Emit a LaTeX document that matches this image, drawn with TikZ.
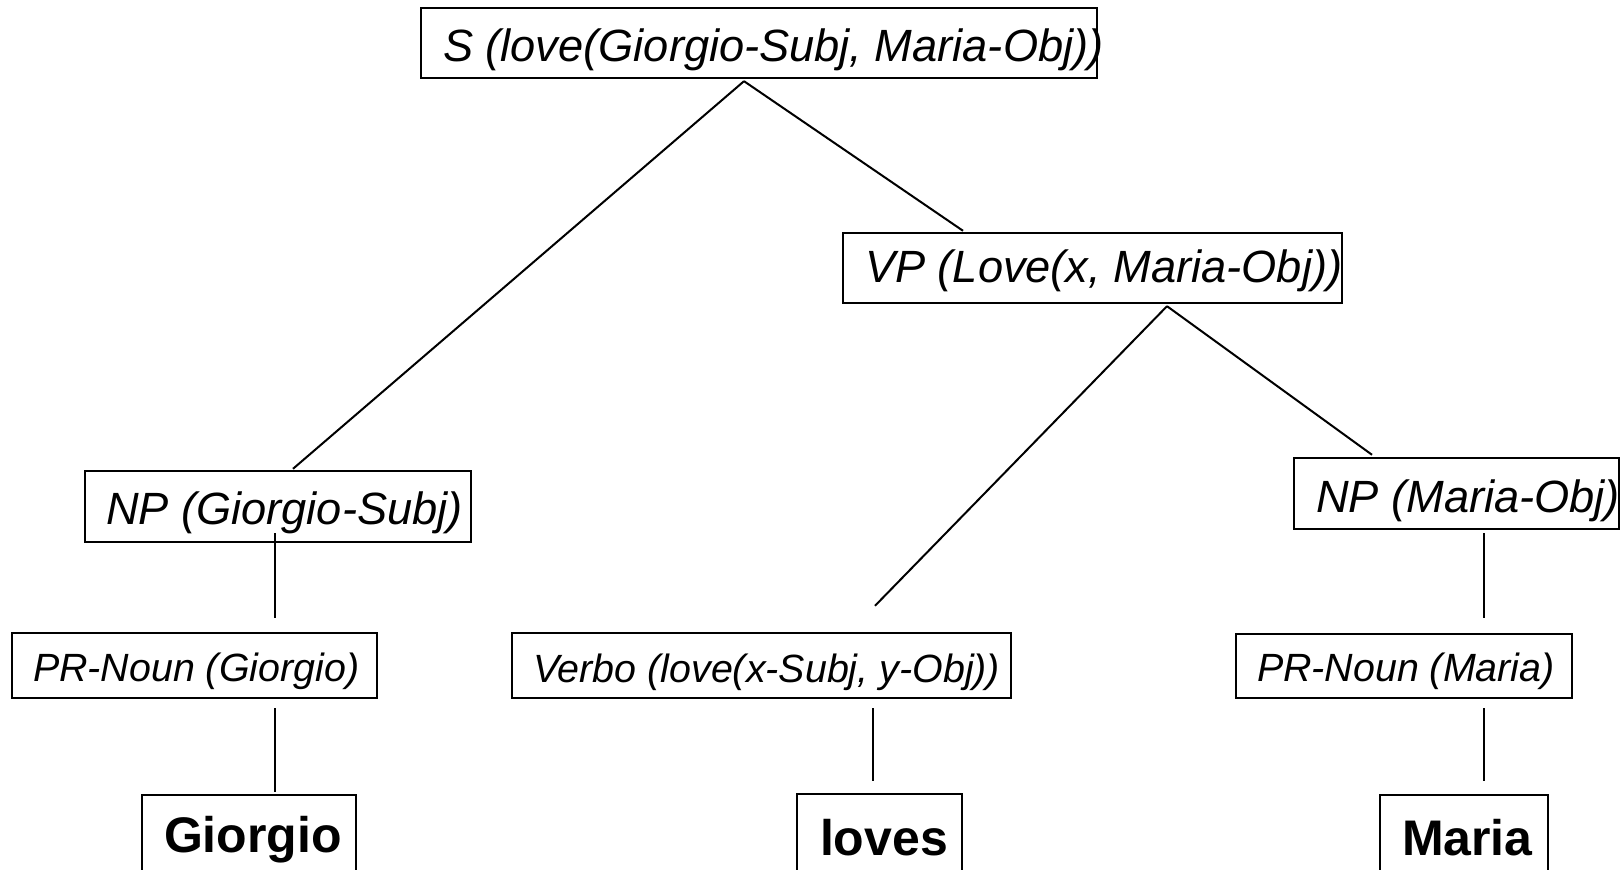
\documentclass[tikz,border=0pt]{standalone}
\usepackage{fontspec}
\setmainfont{Liberation Sans}
\usetikzlibrary{calc}

% left-padded label of a fixed width, so the text sits where it should in its box
\newcommand\padtext[3]{\makebox[#1][l]{\hspace*{#2}#3}}

\tikzset{
  tb/.style={draw, line width=1.2pt, inner sep=0pt, text depth=0pt},
  big/.style={font=\itshape\fontsize{22.6}{26}\selectfont},
  small/.style={font=\itshape\fontsize{19.7}{23}\selectfont},
  word/.style={font=\bfseries\fontsize{25}{29}\selectfont},
  link/.style={line width=1pt},
}

\begin{document}
\begin{tikzpicture}[x=0.5pt, y=-0.5pt]
\useasboundingbox (0,0) rectangle (1621,870);
\clip (0,0) rectangle (1621,870);

% phrase nodes
\node[tb, big, minimum width=338pt, minimum height=35pt, text height=19pt] (S) at (759,43)
  {\padtext{338pt}{11pt}{S (love(Giorgio-Subj, Maria-Obj))}};
\node[tb, big, minimum width=249.5pt, minimum height=35pt, text height=15pt] (VP) at (1092.5,268)
  {\padtext{249.5pt}{11pt}{VP (Love(x, Maria-Obj))}};
\node[tb, big, minimum width=193pt, minimum height=35.5pt, text height=18.5pt] (NPg) at (278,506.5)
  {\padtext{193pt}{10.5pt}{NP (Giorgio-Subj)}};
\node[tb, big, minimum width=162.5pt, minimum height=35.5pt, text height=19.5pt] (NPm) at (1456.5,493.5)
  {\padtext{162.5pt}{11pt}{NP (Maria-Obj)}};

% category nodes
\node[tb, small, minimum width=182.5pt, minimum height=32.5pt, text height=16.5pt] (PRg) at (194.5,665.5)
  {\padtext{182.5pt}{10.5pt}{PR-Noun (Giorgio)}};
\node[tb, small, minimum width=249.5pt, minimum height=32.5pt, text height=17pt] (V) at (761.5,665.5)
  {\padtext{249.5pt}{10.5pt}{Verbo (love(x-Subj, y-Obj))}};
\node[tb, small, minimum width=168pt, minimum height=32pt, text height=16pt] (PRm) at (1404,666)
  {\padtext{168pt}{10.5pt}{PR-Noun (Maria)}};

% words
\node[tb, word, minimum width=107pt, minimum height=50pt, text height=7pt] (Wg) at (249,845)
  {\padtext{107pt}{11pt}{Giorgio}};
\node[tb, word, minimum width=82.5pt, minimum height=50pt, text height=11pt] (Wl) at (879.5,844)
  {\padtext{82.5pt}{11.5pt}{loves}};
\node[tb, word, minimum width=84pt, minimum height=50pt, text height=10pt] (Wm) at (1464,845)
  {\padtext{84pt}{11pt}{Maria}};

% tree branches
\draw[link] ($(S.south)+(-15,2)$) -- ($(NPg.north)+(15,-1)$);
\draw[link] ($(S.south)+(-15,2)$) -- ($(VP.north)+(-129.5,-1)$);
\draw[link] ($(VP.south)+(74.5,2)$) -- ($(V.north)+(113.5,-26)$);
\draw[link] ($(VP.south)+(74.5,2)$) -- ($(NPm.north)+(-84.5,-2)$);

\draw[link] ($(NPg.south)+(-3,-10)$) -- ($(PRg.north)+(80.5,-14)$);
\draw[link] ($(PRg.south)+(80.5,9)$) -- ($(Wg.north)+(26,-2)$);
\draw[link] ($(V.south)+(111.5,9)$) -- ($(Wl.north)+(-6.5,-12)$);
\draw[link] ($(NPm.south)+(27.5,3)$) -- ($(PRm.north)+(80,-15)$);
\draw[link] ($(PRm.south)+(80,9)$) -- ($(Wm.north)+(20,-13)$);
\end{tikzpicture}
\end{document}
